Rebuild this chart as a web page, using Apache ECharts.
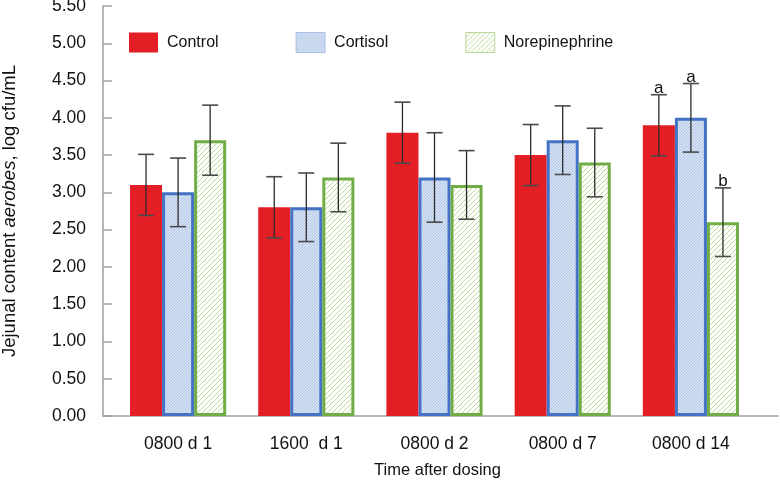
<!DOCTYPE html>
<html><head><meta charset="utf-8">
<script src="https://cdn.jsdelivr.net/npm/echarts@6/dist/echarts.min.js"></script>
<style>html,body{margin:0;padding:0;background:#fff}#c{width:780px;height:481px}</style>
</head><body><div id="c"></div>
<script>
// ---- data ----
const categories = ['0800 d 1', '1600  d 1', '0800 d 2', '0800 d 7', '0800 d 14'];
const seriesNames = ['Control', 'Cortisol', 'Norepinephrine'];
const controlMean = [3.10, 2.80, 3.80, 3.50, 3.90];
const controlErr  = [0.41, 0.41, 0.41, 0.41, 0.41];
const cortisolMean = [3.00, 2.80, 3.20, 3.70, 4.00];
const cortisolErr  = [0.46, 0.46, 0.60, 0.46, 0.46];
const norepiMean = [3.70, 3.20, 3.10, 3.40, 2.60];
const norepiErr  = [0.47, 0.46, 0.46, 0.46, 0.46];
const controlLetters = ['', '', '', '', 'a'];
const cortisolLetters = ['', '', '', '', 'a'];
const norepiLetters = ['', '', '', '', 'b'];
const yTicks = ['0.00','0.50','1.00','1.50','2.00','2.50','3.00','3.50','4.00','4.50','5.00','5.50'];

// ---- patterns ----
function makePattern(bg, line, step, w) {
  const c = document.createElement('canvas');
  c.width = step; c.height = step;
  const g = c.getContext('2d');
  g.fillStyle = bg; g.fillRect(0, 0, step, step);
  g.strokeStyle = line; g.lineWidth = w;
  g.beginPath();
  g.moveTo(-1, step + 1); g.lineTo(step + 1, -1);
  g.moveTo(-1, 1); g.lineTo(1, -1);
  g.moveTo(step - 1, step + 1); g.lineTo(step + 1, step - 1);
  g.stroke();
  return { image: c, repeat: 'repeat' };
}
const bluePattern = makePattern('#d4e1f3', 'rgba(150,178,220,0.7)', 3, 0.8);
const greenPattern = makePattern('#ffffff', '#bcdb96', 5, 1);

const FONT = 'Liberation Sans, Arial, sans-serif';
const chart = echarts.init(document.getElementById('c'), null, {renderer: 'canvas'});

function errSeries(name, means, errs, letters, offsetIdx) {
  return {
    type: 'custom', name: name + ' err', xAxisIndex: 0, yAxisIndex: 0, z: 10,
    silent: true,
    data: means.map((m, i) => [i, m, errs[i]]),
    renderItem: function (params, api) {
      const i = api.value(0), m = api.value(1), e = api.value(2);
      const letter = letters[params.dataIndex];
      const band = api.size([1, 0])[0];
      const cx = api.coord([i, m])[0] + offsetIdx * band * 0.25;
      const top = api.coord([i, m + e])[1];
      const bot = api.coord([i, m - e])[1];
      const cap = band * 0.0625;
      const st = {stroke: '#2b2b2b', lineWidth: 1.3};
      const ch = [
        {type: 'line', shape: {x1: cx, y1: top, x2: cx, y2: bot}, style: st},
        {type: 'line', shape: {x1: cx - cap, y1: top, x2: cx + cap, y2: top}, style: {stroke: '#4a4a4a', lineWidth: 1.6}},
        {type: 'line', shape: {x1: cx - cap, y1: bot, x2: cx + cap, y2: bot}, style: {stroke: '#4a4a4a', lineWidth: 1.6}}
      ];
      if (letter) {
        ch.push({type: 'text', x: cx, y: top + 2, style: {text: letter, align: 'center', verticalAlign: 'bottom', font: '17px ' + FONT, fill: '#111'}});
      }
      return {type: 'group', children: ch};
    }
  };
}

const option = {
  animation: false,
  backgroundColor: '#fff',
  textStyle: {fontFamily: FONT},
  grid: [
    {left: 114, right: 25, top: 6, bottom: 65, containLabel: false, outerBoundsMode: 'none'},
    {left: 103, right: 2, top: 6, bottom: 65, containLabel: false, outerBoundsMode: 'none'}
  ],
  legend: {
    left: 124, top: 27, itemWidth: 29, itemHeight: 20, itemGap: 77, icon: 'rect',
    textStyle: {fontSize: 16, color: '#111', fontFamily: FONT, padding: [0, 0, 0, 4]},
    data: [
      {name: 'Control', itemStyle: {borderWidth: 0}},
      {name: 'Cortisol', itemStyle: {borderWidth: 1, borderColor: '#a9c0e4'}},
      {name: 'Norepinephrine', itemStyle: {borderWidth: 1, borderColor: '#b8d897'}}
    ]
  },
  xAxis: [
    {
      type: 'category', gridIndex: 0, data: categories,
      axisLine: {show: false}, axisTick: {show: false},
      axisLabel: {fontSize: 17.5, color: '#111', margin: 19, fontFamily: FONT}
    },
    {
      type: 'value', gridIndex: 1, min: 0, max: 1,
      axisLine: {show: true, onZero: false, lineStyle: {color: '#a0a0a0', width: 1.5}},
      axisTick: {show: false}, axisLabel: {show: false}, splitLine: {show: false},
      name: 'Time after dosing', nameLocation: 'middle', nameGap: 46,
      nameTextStyle: {fontSize: 16.5, color: '#111', fontFamily: FONT, padding: [0, 6, 0, 0]}
    }
  ],
  yAxis: [
    {type: 'value', gridIndex: 0, min: 0, max: 5.5, interval: 0.5, show: false},
    {
      type: 'value', gridIndex: 1, min: 0, max: 5.5, interval: 0.5,
      axisLine: {show: true, lineStyle: {color: '#a0a0a0', width: 1.5}},
      axisTick: {show: true, inside: true, length: 9, lineStyle: {color: '#a0a0a0', width: 1.5}},
      splitLine: {show: false},
      axisLabel: {fontSize: 17.5, color: '#111', margin: 17, fontFamily: FONT,
        formatter: function (v) { return yTicks[Math.round(v / 0.5)]; }},
      name: 'Jejunal content {i|aerobes}, log cfu/mL', nameLocation: 'middle', nameGap: 84, nameRotate: 90,
      nameTextStyle: {fontSize: 18.5, color: '#111', fontFamily: FONT,
        rich: {i: {fontStyle: 'italic', fontSize: 18.5, color: '#111', fontFamily: FONT}}}
    }
  ],
  series: [
    {name: 'Control', type: 'bar', xAxisIndex: 0, yAxisIndex: 0, data: controlMean,
      barWidth: '25%', barGap: '0%', itemStyle: {color: '#e31e24'}},
    {name: 'Cortisol', type: 'bar', xAxisIndex: 0, yAxisIndex: 0, data: cortisolMean,
      barWidth: '25%', barGap: '0%', itemStyle: {color: bluePattern, borderColor: '#4472c4', borderWidth: 3}},
    {name: 'Norepinephrine', type: 'bar', xAxisIndex: 0, yAxisIndex: 0, data: norepiMean,
      barWidth: '25%', barGap: '0%', itemStyle: {color: greenPattern, borderColor: '#70ad47', borderWidth: 3}},
    errSeries('Control', controlMean, controlErr, controlLetters, -1),
    errSeries('Cortisol', cortisolMean, cortisolErr, cortisolLetters, 0),
    errSeries('Norepinephrine', norepiMean, norepiErr, norepiLetters, 1)
  ]
};
chart.setOption(option);
</script>
</body></html>
